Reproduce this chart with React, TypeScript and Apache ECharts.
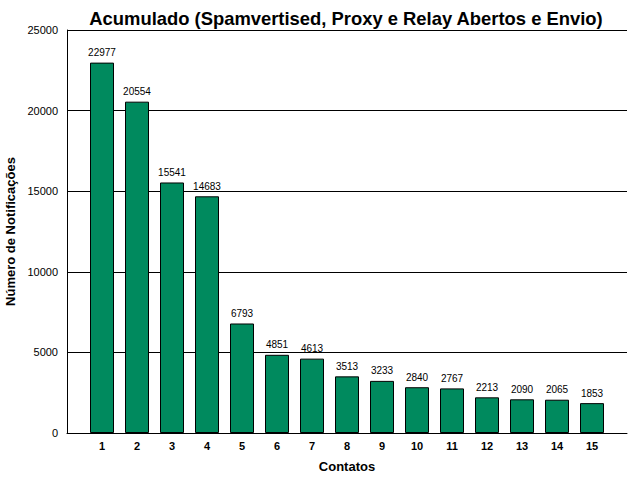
import React, { useEffect, useRef } from "react";
import * as echarts from "echarts";

const categories = ["1", "2", "3", "4", "5", "6", "7", "8", "9", "10", "11", "12", "13", "14", "15"];
const values = [22977, 20554, 15541, 14683, 6793, 4851, 4613, 3513, 3233, 2840, 2767, 2213, 2090, 2065, 1853];
const yTicks = [0, 5000, 10000, 15000, 20000, 25000];

export default function App() {
  const ref = useRef<HTMLDivElement>(null);
  useEffect(() => {
    if (!ref.current) return;
    const chart = echarts.init(ref.current, null, { renderer: "svg" });
    const font = "'Liberation Sans', Arial, sans-serif";
    chart.setOption({
      animation: false,
      backgroundColor: "#ffffff",
      textStyle: { fontFamily: font },
      title: {
        text: "Acumulado (Spamvertised, Proxy e Relay Abertos e Envio)",
        left: 341,
        textAlign: "center",
        top: 4,
        textStyle: { fontFamily: font, fontSize: 18.4, fontWeight: "bold", color: "#000" },
      },
      grid: { left: 67, right: 13, top: 30, bottom: 47, containLabel: false, outerBoundsMode: "none" },
      xAxis: {
        type: "value",
        min: 0,
        max: categories.length + 1,
        interval: 1,
        name: "Contatos",
        nameLocation: "middle",
        nameGap: 27,
        nameTextStyle: { fontFamily: font, fontSize: 13, fontWeight: "bold", color: "#000" },
        axisLine: { show: true, lineStyle: { color: "#000", width: 1 } },
        axisTick: { show: false },
        splitLine: { show: false },
        axisLabel: {
          fontFamily: font,
          fontSize: 11,
          fontWeight: "bold",
          color: "#000",
          margin: 7,
          showMinLabel: true,
          showMaxLabel: true,
          formatter: (v: number) => (v >= 1 && v <= categories.length ? categories[v - 1] : ""),
        },
      },
      yAxis: {
        type: "value",
        min: yTicks[0],
        max: yTicks[yTicks.length - 1],
        interval: 5000,
        name: "Número de Notificações",
        nameLocation: "middle",
        nameGap: 47,
        nameTextStyle: { fontFamily: font, fontSize: 13, fontWeight: "bold", color: "#000" },
        axisLine: { show: true, lineStyle: { color: "#000", width: 1 } },
        axisTick: { show: false },
        splitLine: { show: true, lineStyle: { color: "#000", width: 1 } },
        axisLabel: { fontFamily: font, fontSize: 11, color: "#000", margin: 9, formatter: (v: number) => String(v) },
      },
      series: [
        {
          type: "bar",
          data: values.map((v, i) => [i + 1, v]),
          barWidth: 24,
          itemStyle: { color: "#008A5E", borderColor: "#000", borderWidth: 1 },
          label: {
            show: true,
            position: "top",
            distance: 5,
            fontFamily: font,
            fontSize: 10,
            color: "#000",
          },
        },
      ],
    });
    return () => chart.dispose();
  }, []);
  return <div ref={ref} style={{ width: 640, height: 480, position: "absolute", left: 0, top: 0 }} />;
}
